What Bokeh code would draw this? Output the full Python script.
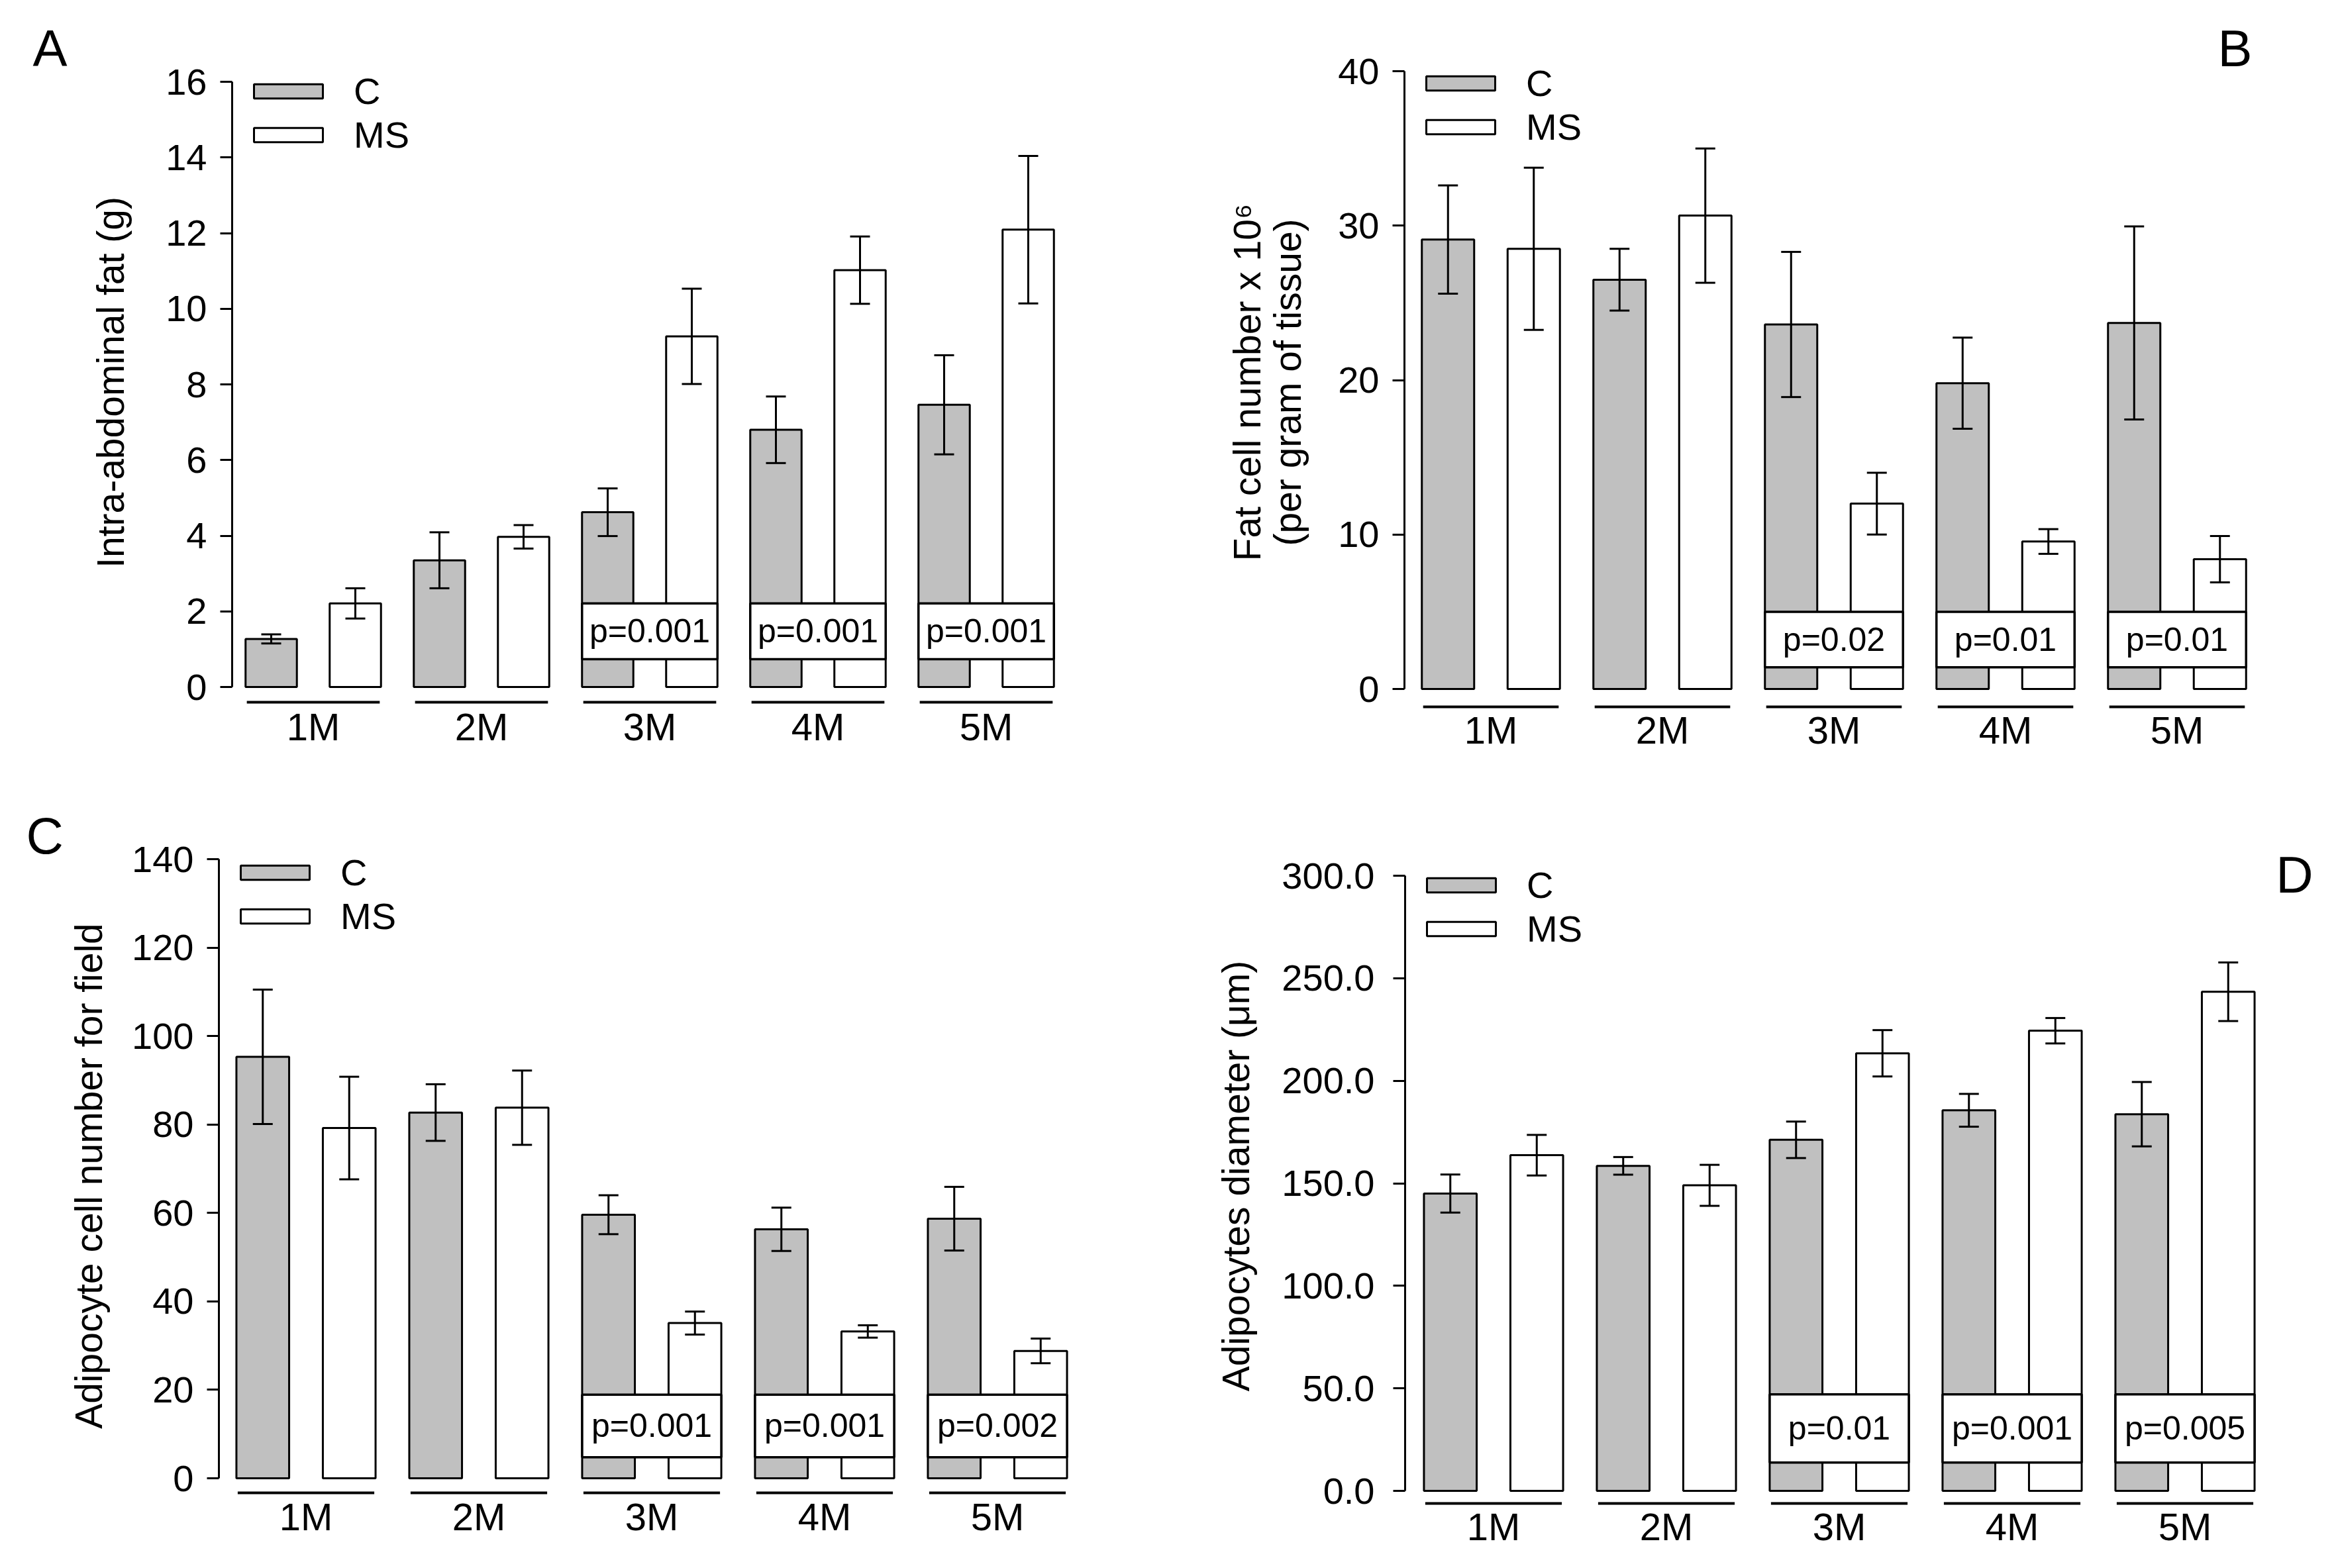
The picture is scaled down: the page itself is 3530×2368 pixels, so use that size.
from bokeh.plotting import figure
from bokeh.layouts import column, row
from bokeh.models import (ColumnDataSource, FixedTicker, Whisker, TeeHead, Legend,
                          LegendItem, Label, Range1d, PrintfTickFormatter)
from bokeh.embed import file_html
from bokeh.resources import INLINE
from bokeh.core.properties import value

# ---------------- data ----------------
months = ["1M", "2M", "3M", "4M", "5M"]
groups = ["C", "MS"]

a_c = [1.27, 3.35, 4.62, 6.80, 7.46]
a_c_err = [0.12, 0.74, 0.63, 0.88, 1.31]
a_ms = [2.21, 3.97, 9.27, 11.02, 12.09]
a_ms_err = [0.40, 0.31, 1.26, 0.89, 1.95]
a_p = ["", "", "p=0.001", "p=0.001", "p=0.001"]
a_ticks = [0, 2, 4, 6, 8, 10, 12, 14, 16]

b_c = [29.1, 26.5, 23.6, 19.8, 23.7]
b_c_err = [3.5, 2.0, 4.7, 2.95, 6.25]
b_ms = [28.5, 30.65, 12.0, 9.55, 8.4]
b_ms_err = [5.25, 4.35, 2.0, 0.8, 1.5]
b_p = ["", "", "p=0.02", "p=0.01", "p=0.01"]
b_ticks = [0, 10, 20, 30, 40]

c_c = [95.3, 82.7, 59.6, 56.3, 58.7]
c_c_err = [15.2, 6.4, 4.4, 4.9, 7.2]
c_ms = [79.2, 83.8, 35.1, 33.2, 28.8]
c_ms_err = [11.6, 8.4, 2.6, 1.4, 2.8]
c_p = ["", "", "p=0.001", "p=0.001", "p=0.002"]
c_ticks = [0, 20, 40, 60, 80, 100, 120, 140]

d_c = [145.0, 158.5, 171.2, 185.6, 183.7]
d_c_err = [9.3, 4.3, 8.9, 8.0, 15.7]
d_ms = [163.7, 149.0, 213.4, 224.4, 243.4]
d_ms_err = [9.9, 10.0, 11.3, 6.2, 14.3]
d_p = ["", "", "p=0.01", "p=0.001", "p=0.005"]
d_ticks = [0, 50, 100, 150, 200, 250, 300]

# ---------------- layout / style ----------------
FIG_W, FIG_H = 1757, 1176
NARROW = "'Liberation Sans Narrow', 'Arial Narrow', 'Liberation Sans', sans-serif"
REG = "'Liberation Sans', Arial, sans-serif"
GRAY = "#c0c0c0"
OFF = 0.25      # half distance between C and MS bar centres (group units)
BW = 0.305      # bar width (group units)

ROW_FRAMES = {0: (84, 1070), 1: (1276, 2275)}   # frame top / bottom in page px

panels = [
    dict(name="A", c=a_c, ce=a_c_err, ms=a_ms, mse=a_ms_err, p=a_p, ticks=a_ticks,
         ylabel="Intra-abdominal fat (g)", fmt="%d", rowi=0,
         org=(0, 0), axis_px=350, top_px=123, zero_px=1037, pitch=254, g0_px=472.5,
         right_px=1603, cat_px=1060, lab_px=1100, lab_standoff=48, tick_standoff=20,
         legend_cy=137, tag=("title", "left", 49 - 350, 116),
         box=(0.046, 0.138)),
    dict(name="B", c=b_c, ce=b_c_err, ms=b_ms, mse=b_ms_err, p=b_p, ticks=b_ticks,
         ylabel="Fat cell number x 10\u2076\n(per gram of tissue)", fmt="%d", rowi=0,
         org=(1757, 0), axis_px=2120, top_px=107, zero_px=1040, pitch=259, g0_px=2250.5,
         right_px=3400, cat_px=1067, lab_px=1105, lab_standoff=41, tick_standoff=20,
         legend_cy=125, tag=("title", "right", 0, 116),
         box=(0.035, 0.125)),
    dict(name="C", c=c_c, ce=c_c_err, ms=c_ms, mse=c_ms_err, p=c_p, ticks=c_ticks,
         ylabel="Adipocyte cell number for field", fmt="%d", rowi=1,
         org=(0, 1176), axis_px=330, top_px=1297, zero_px=2232, pitch=261, g0_px=461.5,
         right_px=1615, cat_px=2254, lab_px=2293, lab_standoff=30, tick_standoff=20,
         legend_cy=1317, tag=("title", "left", 39 - 330, 1305),
         box=(0.034, 0.135)),
    dict(name="D", c=d_c, ce=d_c_err, ms=d_ms, mse=d_ms_err, p=d_p, ticks=d_ticks,
         ylabel="Adipocytes diameter (\u03bcm)", fmt="%.1f", rowi=1,
         org=(1757, 1176), axis_px=2121, top_px=1322, zero_px=2251, pitch=261, g0_px=2254.5,
         right_px=3505, cat_px=2270, lab_px=2308, lab_standoff=34, tick_standoff=28,
         legend_cy=1336, tag=("label", 3464, 1320),
         box=(0.046, 0.157)),
]


def make_panel(cfg):
    ox, oy = cfg["org"]
    ymax = cfg["ticks"][-1]
    ppu = (cfg["zero_px"] - cfg["top_px"]) / ymax
    frame_top, frame_bottom = ROW_FRAMES[cfg["rowi"]]
    x_start = -(cfg["g0_px"] - cfg["axis_px"]) / cfg["pitch"]
    x_end = (cfg["right_px"] - cfg["g0_px"]) / cfg["pitch"]
    y_end = ymax + (cfg["top_px"] - frame_top) / ppu
    y_start = -(frame_bottom - cfg["zero_px"]) / ppu
    y_cat = -(cfg["cat_px"] - cfg["zero_px"]) / ppu

    p = figure(width=FIG_W, height=FIG_H, output_backend="svg", toolbar_location=None,
               x_range=Range1d(x_start, x_end), y_range=Range1d(y_start, y_end),
               min_border_left=cfg["axis_px"] - ox,
               min_border_right=FIG_W - (cfg["right_px"] - ox),
               min_border_top=frame_top - oy,
               min_border_bottom=FIG_H - (frame_bottom - oy),
               background_fill_color="white", border_fill_color="white")
    p.outline_line_color = None
    p.xgrid.visible = False
    p.ygrid.visible = False

    n = len(months)
    xs = list(range(n))
    src_c = ColumnDataSource(dict(x=[i - OFF for i in xs], top=cfg["c"],
                                  lo=[v - e for v, e in zip(cfg["c"], cfg["ce"])],
                                  hi=[v + e for v, e in zip(cfg["c"], cfg["ce"])]))
    src_m = ColumnDataSource(dict(x=[i + OFF for i in xs], top=cfg["ms"],
                                  lo=[v - e for v, e in zip(cfg["ms"], cfg["mse"])],
                                  hi=[v + e for v, e in zip(cfg["ms"], cfg["mse"])]))
    r_c = p.vbar(x="x", top="top", bottom=0, width=BW, source=src_c,
                 fill_color=GRAY, line_color="black", line_width=3)
    r_m = p.vbar(x="x", top="top", bottom=0, width=BW, source=src_m,
                 fill_color="white", line_color="black", line_width=3)

    for src in (src_c, src_m):
        w = Whisker(base="x", upper="hi", lower="lo", source=src, dimension="height",
                    line_color="black", line_width=3, level="annotation",
                    upper_head=TeeHead(size=30, line_width=3, line_color="black"),
                    lower_head=TeeHead(size=30, line_width=3, line_color="black"))
        p.add_layout(w)

    # p-value boxes
    lo_f, hi_f = cfg["box"]
    bx = [i for i in xs if cfg["p"][i]]
    box_src = ColumnDataSource(dict(
        left=[i - OFF - BW / 2 for i in bx], right=[i + OFF + BW / 2 for i in bx],
        bottom=[lo_f * ymax] * len(bx), top=[hi_f * ymax] * len(bx),
        xc=bx, yc=[(lo_f + hi_f) / 2 * ymax] * len(bx),
        txt=[cfg["p"][i] for i in bx]))
    p.quad(left="left", right="right", bottom="bottom", top="top", source=box_src,
           fill_color="white", line_color="black", line_width=3.5)
    p.text(x="xc", y="yc", text="txt", source=box_src, text_align="center",
           text_baseline="middle", text_font=value(NARROW), text_font_size="50px",
           text_color="black")

    # category underlines
    p.segment(x0=[i - 0.395 for i in xs], x1=[i + 0.395 for i in xs],
              y0=[y_cat] * n, y1=[y_cat] * n, line_color="black", line_width=4)

    # y axis
    ya = p.yaxis[0]
    ya.bounds = (0, ymax)
    ya.ticker = FixedTicker(ticks=cfg["ticks"])
    ya.formatter = PrintfTickFormatter(format=cfg["fmt"])
    ya.axis_line_width = 3
    ya.major_tick_line_width = 3
    ya.major_tick_out = 18
    ya.major_tick_in = 0
    ya.minor_tick_line_color = None
    ya.major_label_standoff = cfg["tick_standoff"]
    ya.major_label_text_font = NARROW
    ya.major_label_text_font_size = "56px"
    ya.major_label_text_color = "black"
    ya.axis_label = cfg["ylabel"]
    ya.axis_label_text_font = REG
    ya.axis_label_text_font_size = "57px"
    ya.axis_label_text_font_style = "normal"
    ya.axis_label_text_color = "black"
    ya.axis_label_standoff = cfg["lab_standoff"]
    ya.axis_label_text_line_height = 0.95

    # x axis (category labels)
    xa = p.xaxis[0]
    xa.ticker = FixedTicker(ticks=xs)
    xa.major_label_overrides = {i: m for i, m in enumerate(months)}
    xa.axis_line_color = None
    xa.major_tick_line_color = None
    xa.minor_tick_line_color = None
    xa.major_label_standoff = int(round(cfg["lab_px"] - 36 - frame_bottom))
    xa.major_tick_out = 0
    xa.major_tick_in = 0
    xa.major_label_text_font = NARROW
    xa.major_label_text_font_size = "58px"
    xa.major_label_text_color = "black"

    # legend
    legend = Legend(items=[LegendItem(label=groups[0], renderers=[r_c]),
                           LegendItem(label=groups[1], renderers=[r_m])],
                    glyph_width=130, glyph_height=27, label_standoff=34,
                    label_height=66, spacing=0, padding=0, margin=0,
                    border_line_color=None, background_fill_alpha=0,
                    label_text_font=NARROW, label_text_font_size="56px",
                    label_text_color="black")
    legend_top = cfg["legend_cy"] - 33
    legend.location = (20, frame_bottom - legend_top - 132)
    p.add_layout(legend)

    # panel letter
    tag = cfg["tag"]
    if tag[0] == "title":
        _, align, offset, text_bottom = tag
        p.title.text = cfg["name"]
        p.title.align = align
        p.title.offset = offset
        p.title.standoff = -2 * (text_bottom - frame_top)
        p.title.vertical_align = "bottom"
        p.title.text_font = REG
        p.title.text_font_size = "78px"
        p.title.text_font_style = "normal"
        p.title.text_color = "black"
    else:
        _, lx, ly = tag
        p.add_layout(Label(x=lx - cfg["axis_px"], y=frame_bottom - ly,
                           x_units="screen", y_units="screen", text=cfg["name"],
                           text_font=REG, text_font_size="78px", text_align="center",
                           text_baseline="middle", text_color="black"))
    return p


figs = [make_panel(c) for c in panels]
layout = column(row(figs[0], figs[1]), row(figs[2], figs[3]))
open("out.html", "w").write(file_html(layout, INLINE))
